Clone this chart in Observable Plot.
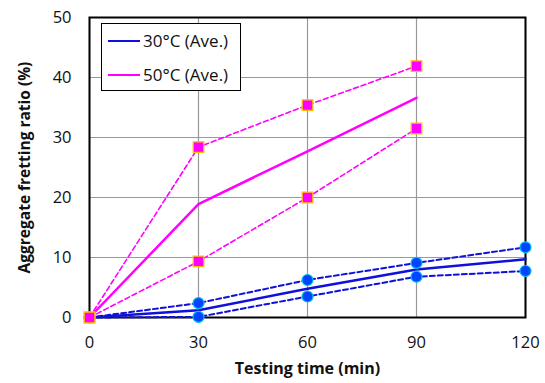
<!DOCTYPE html>
<html><head><meta charset="utf-8">
<script src="https://cdn.jsdelivr.net/npm/d3@7"></script>
<script src="https://cdn.jsdelivr.net/npm/@observablehq/plot@0.6"></script>
<style>
body{margin:0;background:#fff;font-family:"Open Sans",sans-serif;}
#wrap{position:relative;width:545px;height:383px;}
#legend{position:absolute;left:101px;top:23px;width:140px;height:68px;border:1.5px solid #000;background:#fff;box-sizing:border-box;}
.item{position:absolute;left:6px;display:flex;align-items:center;font-size:17px;color:#111;}
.item span.sw{display:inline-block;width:32px;height:0;border-top:2.5px solid;margin-right:3px;}
</style></head>
<body><div id="wrap"><div id="legend">
<div class="item" style="top:5px"><span class="sw" style="border-color:#1010dd"></span>30°C (Ave.)</div>
<div class="item" style="top:39px"><span class="sw" style="border-color:#ff00ff"></span>50°C (Ave.)</div>
</div></div>
<script>
const times30 = [0, 30, 60, 90, 120];
const upper30 = [0, 2.4, 6.25, 9.1, 11.7];
const lower30 = [0, 0.1, 3.5, 6.8, 7.75];
const avg30   = [0, 1.2, 4.8, 8.0, 9.7];
const times50 = [0, 30, 60, 90];
const upper50 = [0, 28.4, 35.4, 41.9];
const lower50 = [0, 9.35, 20.0, 31.5];
const avg50   = [0, 18.9, 27.7, 36.6];
const xTicks = [0, 30, 60, 90, 120];
const yTicks = [0, 10, 20, 30, 40, 50];

const mk = (t, v) => t.map((x, i) => ({x, y: v[i]}));
const u30 = mk(times30, upper30), l30 = mk(times30, lower30), a30 = mk(times30, avg30);
const u50 = mk(times50, upper50), l50 = mk(times50, lower50), a50 = mk(times50, avg50);

const blue = "#1010dd", mag = "#ff00ff";
const chart = Plot.plot({
  width: 545, height: 383,
  marginLeft: 89, marginRight: 20, marginTop: 17, marginBottom: 66,
  style: {fontFamily: "Open Sans, sans-serif", fontSize: "16.5px", color: "#111"},
  x: {domain: [0, 120], ticks: xTicks, label: null, tickSize: 0},
  y: {domain: [0, 50], ticks: yTicks, label: null, tickSize: 0},
  marks: [
    Plot.gridX(xTicks, {stroke: "#999", strokeOpacity: 1, strokeWidth: 1.2}),
    Plot.gridY(yTicks, {stroke: "#999", strokeOpacity: 1, strokeWidth: 1.2}),
    Plot.frame({stroke: "#000", strokeWidth: 2}),
    Plot.axisX({ticks: xTicks, tickSize: 0, tickPadding: 19, fontSize: 16.5, label: null}),
    Plot.axisY({ticks: yTicks, tickSize: 0, tickPadding: 18, fontSize: 16.5, label: null}),
    Plot.line(u50, {x: "x", y: "y", stroke: mag, strokeWidth: 1.6, strokeDasharray: "5,3"}),
    Plot.line(l50, {x: "x", y: "y", stroke: mag, strokeWidth: 1.6, strokeDasharray: "5,3"}),
    Plot.line(a50, {x: "x", y: "y", stroke: mag, strokeWidth: 2.5}),
    Plot.line(u30, {x: "x", y: "y", stroke: blue, strokeWidth: 2, strokeDasharray: "5,3"}),
    Plot.line(l30, {x: "x", y: "y", stroke: blue, strokeWidth: 2, strokeDasharray: "5,3"}),
    Plot.line(a30, {x: "x", y: "y", stroke: blue, strokeWidth: 2.5}),
    Plot.dot(u30.concat(l30), {x: "x", y: "y", r: 5.5, fill: "#0044ff", stroke: "#00c0f0", strokeWidth: 1.2}),
    Plot.dot(u50.concat(l50), {x: "x", y: "y", r: 6, symbol: "square", fill: mag, stroke: "#ffc000", strokeWidth: 1.2}),
    Plot.text(["Testing time (min)"], {frameAnchor: "bottom", dy: 56, fontWeight: "bold", fontSize: 16}),
    Plot.text(["Aggregate fretting ratio (%)"], {frameAnchor: "left", dx: -64, rotate: -90, textAnchor: "middle", fontWeight: "bold", fontSize: 15.5})
  ]
});
document.getElementById("wrap").prepend(chart);
</script></body></html>
